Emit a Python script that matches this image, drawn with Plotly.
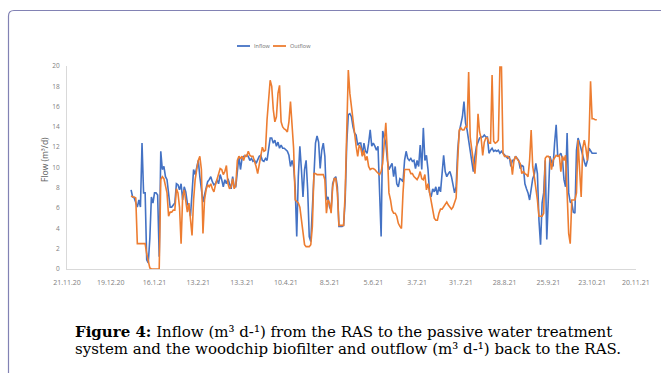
import pandas as pd
import plotly.graph_objects as go

# ---------------- data ----------------
start_date = "2021-01-01"   # first daily value

inflow = [
    7.8, 7.1, 7.0, 6.6, 6.1, 6.8, 6.1, 12.4, 7.5, 7.5,
    0.9, 0.6, 3.0, 7.1, 6.5, 7.5, 7.5, 7.3, 1.2, 11.6,
    9.8, 10.1, 9.1, 8.8, 7.1, 6.1, 6.1, 6.3, 6.5, 8.4,
    8.3, 7.8, 8.4, 6.8, 8.1, 7.6, 6.5, 6.1, 5.2, 7.5,
    9.8, 9.3, 10.1, 10.7, 9.1, 7.5, 6.6, 7.3, 8.1, 8.6,
    8.8, 9.1, 8.6, 8.3, 8.4, 8.8, 8.4, 9.3, 8.8, 8.1,
    8.8, 8.4, 8.9, 8.3, 7.9, 9.1, 8.1, 8.1, 9.8, 11.1,
    9.8, 10.9, 11.1, 11.1, 11.2, 11.1, 10.7, 10.9, 10.6, 10.7,
    10.4, 10.7, 11.1, 11.2, 10.7, 10.6, 10.9, 10.7, 11.7, 12.9,
    12.9, 12.4, 12.7, 12.1, 12.5, 11.9, 12.2, 11.9, 11.9, 11.7,
    11.6, 11.2, 10.1, 10.7, 10.1, 8.1, 3.2, 9.1, 12.1, 9.8,
    7.1, 9.8, 10.7, 7.8, 3.2, 2.7, 5.8, 9.1, 12.4, 13.1,
    12.5, 9.9, 11.7, 12.4, 11.1, 6.8, 7.1, 6.1, 5.8, 8.4,
    8.9, 9.1, 8.1, 4.2, 4.2, 4.2, 4.3, 6.8, 12.4, 15.2,
    15.3, 15.0, 14.0, 13.4, 13.2, 12.2, 12.4, 12.4, 11.2, 12.4,
    11.6, 11.4, 12.4, 13.7, 12.1, 12.4, 12.1, 11.7, 12.1, 8.0,
    3.2, 13.6, 12.9, 12.4, 10.7, 9.8, 10.1, 10.4, 9.1, 10.1,
    8.4, 8.1, 8.9, 8.8, 8.6, 10.7, 11.6, 10.9, 10.7, 10.9,
    10.6, 10.7, 9.9, 10.7, 10.1, 12.2, 9.8, 13.9, 10.7, 11.2,
    9.8, 7.5, 7.1, 7.9, 7.6, 8.1, 7.3, 8.1, 7.6, 9.4,
    11.2, 9.6, 9.1, 9.4, 9.6, 9.1, 8.1, 7.5, 8.1, 11.7,
    13.5, 14.2, 15.0, 16.5, 14.4, 13.7, 12.7, 11.7, 10.7, 9.6,
    11.1, 12.1, 12.5, 12.9, 13.0, 13.0, 13.2, 13.0, 13.0, 11.4,
    11.7, 11.9, 11.6, 11.7, 11.6, 11.7, 11.4, 11.6, 11.4, 11.2,
    11.1, 10.9, 11.1, 10.1, 10.7, 10.7, 11.1, 10.9, 10.7, 9.9,
    10.2, 10.1, 8.4, 7.9, 7.5, 6.8, 8.1, 8.9, 9.3, 10.4,
    9.4, 4.8, 2.4, 6.5, 7.5, 10.7, 2.9, 8.1, 11.1, 10.6,
    10.1, 12.4, 14.2, 11.1, 11.2, 11.4, 10.9, 8.8, 8.1, 13.4,
    7.5, 6.6, 6.5, 5.6, 5.5, 11.7, 12.9, 12.4, 11.7, 11.1,
    10.6, 10.1, 10.7, 11.9, 11.6, 11.4, 11.4, 11.4, 11.4,
]

outflow = [
    7.2, 7.1, 7.1, 7.0, 2.5, 2.5, 2.5, 2.5, 2.5, 2.5,
    1.5, 0.6, 0.1, 0, 0, 0, 0, 0, 0, 8.8,
    9.1, 8.9, 8.3, 7.5, 5.2, 5.6, 5.6, 5.8, 5.8, 7.9,
    7.5, 6.1, 2.5, 7.1, 7.8, 6.5, 5.6, 6.5, 4.5, 3.3,
    6.8, 8.8, 9.8, 10.7, 11.1, 9.8, 3.5, 6.8, 7.8, 8.3,
    8.1, 8.4, 7.9, 7.6, 8.3, 8.8, 9.3, 9.9, 9.8, 9.3,
    9.6, 10.2, 8.4, 7.9, 8.1, 8.9, 7.9, 8.3, 10.7, 11.1,
    10.9, 11.1, 10.7, 11.2, 11.1, 11.6, 11.2, 11.1, 11.1, 10.7,
    10.1, 9.4, 10.4, 11.4, 12.0, 11.6, 11.7, 14.7, 17.0, 18.6,
    18.0, 15.7, 14.5, 15.0, 17.3, 18.1, 14.5, 14.0, 13.8, 13.7,
    13.5, 14.5, 16.5, 13.5, 11.9, 6.8, 6.6, 6.5, 6.1, 4.8,
    3.5, 2.4, 2.2, 2.2, 2.2, 2.4, 4.2, 9.4, 9.4, 9.3,
    9.3, 9.3, 9.3, 9.3, 8.8, 5.5, 6.8, 6.5, 5.5, 8.1,
    8.9, 8.9, 7.5, 4.3, 4.3, 4.3, 4.3, 7.5, 13.4, 19.6,
    17.3, 16.0, 14.4, 13.0, 12.1, 11.1, 12.2, 11.9, 11.1, 11.7,
    10.7, 11.1, 10.1, 9.8, 9.9, 9.9, 9.8, 9.6, 9.4, 9.3,
    9.6, 10.4, 12.4, 14.4, 11.4, 7.5, 6.8, 5.8, 5.5, 5.5,
    5.2, 4.5, 4.2, 4.0, 7.5, 9.8, 9.8, 9.8, 9.8, 9.4,
    9.4, 9.1, 8.9, 8.8, 9.1, 9.6, 8.9, 8.8, 9.3, 7.8,
    8.4, 7.6, 6.8, 6.1, 5.0, 4.8, 4.8, 5.5, 5.9, 5.9,
    6.1, 6.3, 6.6, 6.3, 6.1, 5.9, 6.1, 6.6, 7.0, 10.7,
    13.7, 13.9, 13.7, 13.7, 14.0, 14.0, 19.4, 13.0, 11.7, 10.4,
    9.4, 11.4, 15.3, 13.5, 12.9, 11.2, 12.5, 12.9, 12.9, 12.4,
    12.4, 19.1, 12.6, 12.4, 12.5, 12.7, 19.9, 19.9, 11.4, 11.1,
    11.1, 11.1, 10.9, 10.7, 9.3, 10.7, 11.1, 10.9, 10.7, 10.4,
    9.4, 9.6, 9.4, 9.3, 9.1, 10.7, 13.7, 10.1, 9.1, 8.1,
    6.8, 5.2, 5.2, 5.2, 5.5, 10.9, 11.1, 11.1, 10.9, 9.8,
    10.7, 10.9, 11.2, 11.1, 11.2, 9.6, 11.1, 10.7, 11.2, 7.5,
    3.5, 2.5, 6.8, 6.8, 6.8, 7.5, 12.7, 9.8, 7.1, 11.9,
    12.7, 11.9, 10.7, 12.7, 18.5, 14.8, 14.8, 14.7, 14.7,
]

series_names = ["Inflow", "Outflow"]
series_colors = ["#4472C4", "#ED7D31"]

axis_start = "2020-11-21"
axis_end = "2021-11-20"
tick_dates = pd.date_range(axis_start, axis_end, freq="28D")
tick_labels = [f"{d.day}.{d.month}.{d.strftime('%y')}" for d in tick_dates]
y_ticks = list(range(0, 21, 2))

y_title = "Flow (m³/d)"
caption_1 = "<b>Figure 4:</b> Inflow (m³ d-¹) from the RAS to the passive water treatment"
caption_2 = "system and the woodchip biofilter and outflow (m³ d-¹) back to the RAS."

# ---------------- layout helpers (pixel -> paper) ----------------
W, H = 661, 373
L, R, T, B = 67, 636, 66, 269


def px(x):
    return (x - L) / (R - L)


def py(y):
    return (B - y) / (B - T)


fig = go.Figure()
for name, vals, col in zip(series_names, [inflow, outflow], series_colors):
    dates = pd.date_range(start_date, periods=len(vals), freq="D")
    fig.add_trace(go.Scatter(x=dates, y=vals, mode="lines", name=name,
                             line=dict(color=col, width=1.6)))

tick_font = dict(family="Open Sans, sans-serif", size=7, color="#808080")

fig.update_layout(
    width=W, height=H, autosize=False,
    margin=dict(l=L, r=W - R, t=T, b=H - B, pad=0),
    paper_bgcolor="white", plot_bgcolor="white",
    showlegend=False,
)
fig.update_xaxes(
    range=[axis_start, axis_end + " 02:00"],
    tickmode="array", tickvals=tick_dates, ticktext=tick_labels,
    showgrid=False, zeroline=False, showline=True,
    linecolor="#d9d9d9", linewidth=1, ticks="",
    tickfont=tick_font, ticklabelstandoff=7,
)
fig.update_yaxes(
    range=[0, 20], tickmode="array", tickvals=y_ticks,
    showgrid=False, zeroline=False, showline=True,
    linecolor="#d9d9d9", linewidth=1, ticks="",
    tickfont=dict(family="Open Sans, sans-serif", size=6.5, color="#808080"),
    ticklabelstandoff=5,
)

# frame (rounded corner, running off right/bottom)
frame_path = (f"M {px(8.5)},{py(385)} L {px(8.5)},{py(16)} "
              f"Q {px(8.5)},{py(10.5)} {px(14)},{py(10.5)} L {px(675)},{py(10.5)}")
fig.add_shape(type="path", path=frame_path, xref="paper", yref="paper",
              line=dict(color="#8282b4", width=1.2))

# legend (manual, small)
leg_y = py(46)
leg_items = [(237, 250, 251.5), (273, 286, 287.5)]
for (x0, x1, xt), name, col in zip(leg_items, series_names, series_colors):
    fig.add_shape(type="line", xref="paper", yref="paper",
                  x0=px(x0), x1=px(x1), y0=leg_y, y1=leg_y,
                  line=dict(color=col, width=1.8))
    fig.add_annotation(x=px(xt), y=leg_y, xref="paper", yref="paper",
                       text=name, showarrow=False, xanchor="left", yanchor="middle",
                       font=dict(family="Open Sans, sans-serif", size=5.5, color="#707070"))

# y axis title
fig.add_annotation(x=px(44), y=py(160), xref="paper", yref="paper",
                   text=y_title, textangle=-90, showarrow=False,
                   xanchor="center", yanchor="middle",
                   font=dict(family="Open Sans, sans-serif", size=8.5, color="#606060"))

# caption
cap_font = dict(family="DejaVu Serif, serif", size=15, color="black")
for txt, yc in [(caption_1, 331.5), (caption_2, 349.2)]:
    fig.add_annotation(x=px(75), y=py(yc), xref="paper", yref="paper", text=txt,
                       showarrow=False, xanchor="left", yanchor="middle",
                       borderpad=0, borderwidth=0, font=cap_font)

fig.write_html("out.html", config={"displayModeBar": False})
